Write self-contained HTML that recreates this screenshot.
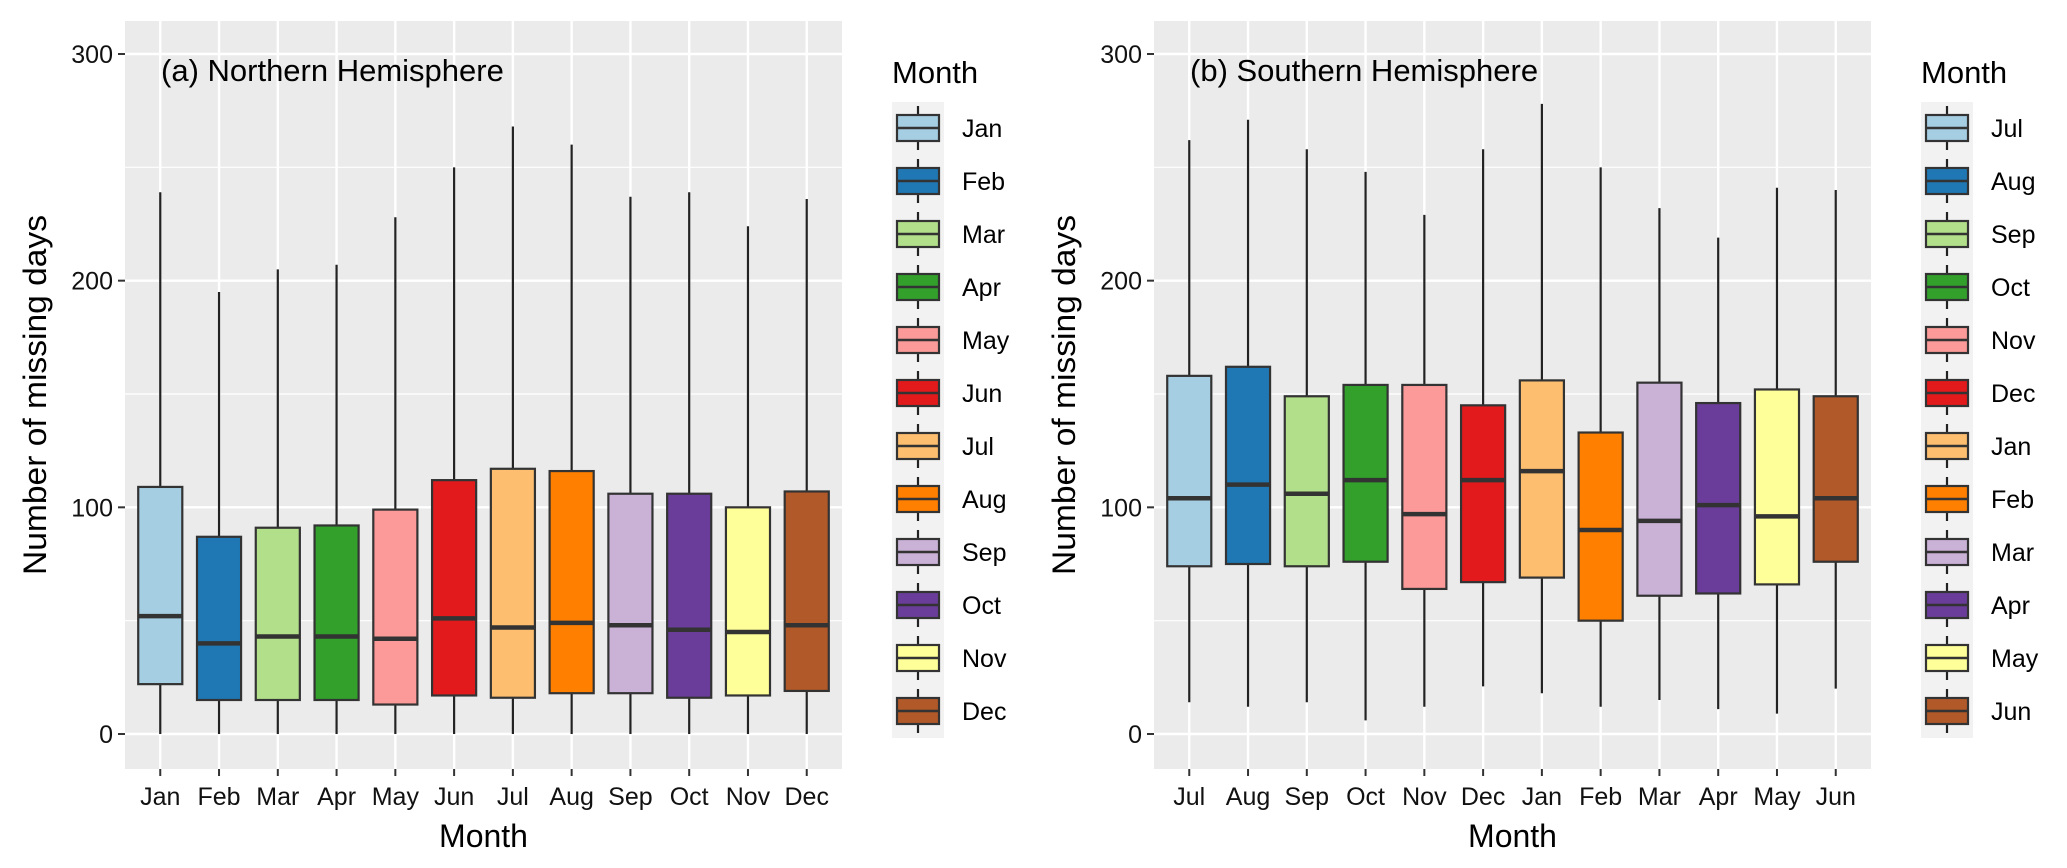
<!DOCTYPE html>
<html><head><meta charset="utf-8"><style>
body{margin:0;background:#fff;}
svg{display:block;font-family:"Liberation Sans",Arial,sans-serif;}
</style></head><body>
<svg id="chart" width="2067" height="868" viewBox="0 0 2067 868"></svg>
<script>
const months = ["Jan","Feb","Mar","Apr","May","Jun","Jul","Aug","Sep","Oct","Nov","Dec"];
const shMonths = ["Jul","Aug","Sep","Oct","Nov","Dec","Jan","Feb","Mar","Apr","May","Jun"];
const colors = ["#A6CEE3","#1F78B4","#B2DF8A","#33A02C","#FB9A99","#E31A1C","#FDBF6F","#FF7F00","#CAB2D6","#6A3D9A","#FFFF99","#B15928"];
const yTicks = [0,100,200,300];
// Northern hemisphere: whisker-low, Q1, median, Q3, whisker-high
const nhLow = [0,0,0,0,0,0,0,0,0,0,0,0];
const nhQ1 = [22,15,15,15,13,17,16,18,18,16,17,19];
const nhMed = [52,40,43,43,42,51,47,49,48,46,45,48];
const nhQ3 = [109,87,91,92,99,112,117,116,106,106,100,107];
const nhHigh = [239,195,205,207,228,250,268,260,237,239,224,236];
// Southern hemisphere
const shLow = [14,12,14,6,12,21,18,12,15,11,9,20];
const shQ1 = [74,75,74,76,64,67,69,50,61,62,66,76];
const shMed = [104,110,106,112,97,112,116,90,94,101,96,104];
const shQ3 = [158,162,149,154,154,145,156,133,155,146,152,149];
const shHigh = [262,271,258,248,229,258,278,250,232,219,241,240];

const NS="http://www.w3.org/2000/svg";
const svg=document.getElementById('chart');
function mk(tag,attrs,parent,text){const e=document.createElementNS(NS,tag);for(const k in attrs)e.setAttribute(k,attrs[k]);if(text!==undefined)e.textContent=text;(parent||svg).appendChild(e);return e;}

function panel(px,title,cats,low,q1,med,q3,high,prefix){
  const left=px,right=px+717,top=21,bottom=769;
  const band=(right-left)/12.2;
  const xs=i=>left+(i+0.6)*band;
  const ys=v=>734-v*2.2667;
  const g=mk('g',{});
  
  
  const bg=mk('rect',{x:left,y:top,width:right-left,height:bottom-top,fill:'#EBEBEB'},g);
  
  
  [50,150,250].forEach(v=>{const l=mk('line',{x1:left,x2:right,y1:ys(v),y2:ys(v),stroke:'#fff','stroke-width':1.2},g);
    
    });
  yTicks.forEach(v=>{const l=mk('line',{x1:left,x2:right,y1:ys(v),y2:ys(v),stroke:'#fff','stroke-width':2.4},g);
    
    
    const t=mk('line',{x1:left-7,x2:left,y1:ys(v),y2:ys(v),stroke:'#333','stroke-width':2},g);
    
    
    const tx=mk('text',{x:left-12,y:ys(v)+9,'text-anchor':'end','font-size':25,fill:'#111'},g,String(v));
    
    });
  cats.forEach((c,i)=>{const x=xs(i);
    const l=mk('line',{x1:x,x2:x,y1:top,y2:bottom,stroke:'#fff','stroke-width':2.4},g);
    
    
    const t=mk('line',{x1:x,x2:x,y1:bottom,y2:bottom+7,stroke:'#333','stroke-width':2},g);
    
    
    const tx=mk('text',{x:x,y:805,'text-anchor':'middle','font-size':25,fill:'#111'},g,c);
    
    });
  cats.forEach((c,i)=>{const x=xs(i),w=band*0.75;
    const bx=mk('g',{},g);
    
    
    mk('line',{x1:x,x2:x,y1:ys(high[i]),y2:ys(q3[i]),stroke:'#222','stroke-width':2.2},bx);
    mk('line',{x1:x,x2:x,y1:ys(q1[i]),y2:ys(low[i]),stroke:'#222','stroke-width':2.2},bx);
    mk('rect',{x:x-w/2,y:ys(q3[i]),width:w,height:ys(q1[i])-ys(q3[i]),fill:colors[i],stroke:'#333','stroke-width':2.2},bx);
    mk('line',{x1:x-w/2,x2:x+w/2,y1:ys(med[i]),y2:ys(med[i]),stroke:'#333','stroke-width':4.5},bx);
  });
  const an=mk('text',{x:left+36,y:81,'font-size':31,fill:'#000'},g,title);
  
  
  const xt=mk('text',{x:(left+right)/2,y:847,'text-anchor':'middle','font-size':32,fill:'#000'},g,'Month');
  
  
  const yt=mk('text',{x:0,y:0,'text-anchor':'middle','font-size':32,fill:'#000',textLength:360,lengthAdjust:'spacingAndGlyphs',transform:`translate(${left-79},395) rotate(-90)`},g,'Number of missing days');
  
  
  const lg=mk('g',{},g);
  
  
  const lx=right+50;
  mk('text',{x:lx,y:83,'font-size':31,fill:'#000'},lg,'Month');
  mk('rect',{x:lx,y:102,width:52,height:53*12,fill:'#F2F2F2'},lg);
  cats.forEach((c,i)=>{const cy=128+i*53.0,cx=lx+26;
    const e=mk('g',{},lg);
    
    
    mk('line',{x1:cx,x2:cx,y1:cy-22,y2:cy+22,stroke:'#222','stroke-width':2.2},e);
    mk('rect',{x:cx-21,y:cy-13,width:42,height:26,fill:colors[i],stroke:'#333','stroke-width':2.2},e);
    mk('line',{x1:cx-21,x2:cx+21,y1:cy,y2:cy,stroke:'#333','stroke-width':2.5},e);
    mk('text',{x:lx+70,y:cy+9,'font-size':25,fill:'#000'},e,c);
  });
}
panel(125,'(a) Northern Hemisphere',months,nhLow,nhQ1,nhMed,nhQ3,nhHigh,'nh');
panel(1154,'(b) Southern Hemisphere',shMonths,shLow,shQ1,shMed,shQ3,shHigh,'sh');
</script>
</body></html>
